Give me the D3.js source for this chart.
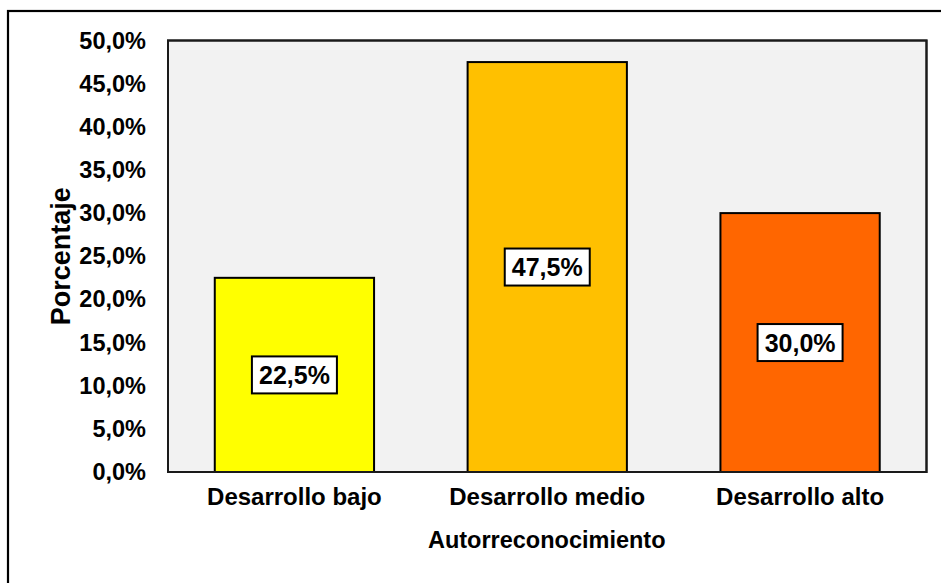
<!DOCTYPE html>
<html>
<head>
<meta charset="utf-8">
<script src="https://cdn.jsdelivr.net/npm/d3@7/dist/d3.min.js"></script>
<style>
  html, body { margin: 0; padding: 0; background: #fff; }
  svg { display: block; }
  text { font-family: "Liberation Sans", Arial, sans-serif; font-weight: bold; fill: #000; }
</style>
</head>
<body>
<svg id="chart" width="941" height="583"></svg>
<script>
const categories = ["Desarrollo bajo", "Desarrollo medio", "Desarrollo alto"];
const values = [22.5, 47.5, 30.0];
const barColors = ["#FFFF00", "#FFC000", "#FF6600"];
const yTicks = [0, 5, 10, 15, 20, 25, 30, 35, 40, 45, 50];
const xTitle = "Autorreconocimiento";
const yTitle = "Porcentaje";

const fmt = v => d3.format(".1f")(v).replace(".", ",") + "%";

const svg = d3.select("#chart");
const plot = { left: 168, top: 40.5, right: 926.5, bottom: 472 };

// outer chart border (extends beyond the viewport to the right and bottom)
svg.append("rect")
  .attr("x", 8).attr("y", 11).attr("width", 1000).attr("height", 1000)
  .attr("fill", "#fff").attr("stroke", "#000").attr("stroke-width", 2.2);

const x = d3.scaleBand()
  .domain(categories)
  .range([plot.left, plot.right])
  .paddingInner(0.37)
  .paddingOuter(0.185);

const y = d3.scaleLinear()
  .domain([0, 50])
  .range([plot.bottom, plot.top]);

// plot area
svg.append("rect")
  .attr("x", plot.left).attr("y", plot.top)
  .attr("width", plot.right - plot.left).attr("height", plot.bottom - plot.top)
  .attr("fill", "#F2F2F2").attr("stroke", "#1a1a1a").attr("stroke-width", 2);

// bars
svg.append("g").selectAll("rect")
  .data(categories)
  .join("rect")
  .attr("x", d => x(d))
  .attr("y", (d, i) => y(values[i]))
  .attr("width", x.bandwidth())
  .attr("height", (d, i) => y(0) - y(values[i]))
  .attr("fill", (d, i) => barColors[i])
  .attr("stroke", "#000").attr("stroke-width", 2);

// y axis
const yAxis = d3.axisLeft(y).tickValues(yTicks).tickSize(0).tickPadding(22).tickFormat(fmt);
const gy = svg.append("g").attr("transform", `translate(${plot.left},0)`).call(yAxis);
gy.select(".domain").remove();
gy.selectAll("text")
  .style("font-family", '"Liberation Sans", Arial, sans-serif')
  .style("font-weight", "bold").style("font-size", "23.5px").attr("fill", "#000");

// x axis
const xAxis = d3.axisBottom(x).tickSize(0).tickPadding(16);
const gx = svg.append("g").attr("transform", `translate(0,${plot.bottom})`).call(xAxis);
gx.select(".domain").remove();
gx.selectAll("text")
  .style("font-family", '"Liberation Sans", Arial, sans-serif')
  .style("font-weight", "bold").style("font-size", "24px").attr("fill", "#000");

// redraw plot border on top
svg.append("rect")
  .attr("x", plot.left).attr("y", plot.top)
  .attr("width", plot.right - plot.left).attr("height", plot.bottom - plot.top)
  .attr("fill", "none").attr("stroke", "#1a1a1a").attr("stroke-width", 2);

// data labels
const lab = svg.append("g").selectAll("g")
  .data(categories)
  .join("g")
  .attr("transform", (d, i) => `translate(${x(d) + x.bandwidth() / 2},${(y(values[i]) + y(0)) / 2})`);
lab.append("rect")
  .attr("x", -42.5).attr("y", -18.5).attr("width", 85).attr("height", 37)
  .attr("fill", "#fff").attr("stroke", "#000").attr("stroke-width", 2);
lab.append("text")
  .attr("text-anchor", "middle").attr("dy", "0.36em")
  .style("font-size", "25px")
  .text((d, i) => fmt(values[i]));

// axis titles
svg.append("text")
  .attr("x", (plot.left + plot.right) / 2 - 0.5).attr("y", 548)
  .attr("text-anchor", "middle").style("font-size", "23.5px")
  .text(xTitle);
svg.append("text")
  .attr("transform", `translate(70,${(plot.top + plot.bottom) / 2}) rotate(-90)`)
  .attr("text-anchor", "middle").style("font-size", "27px")
  .text(yTitle);
</script>
</body>
</html>
